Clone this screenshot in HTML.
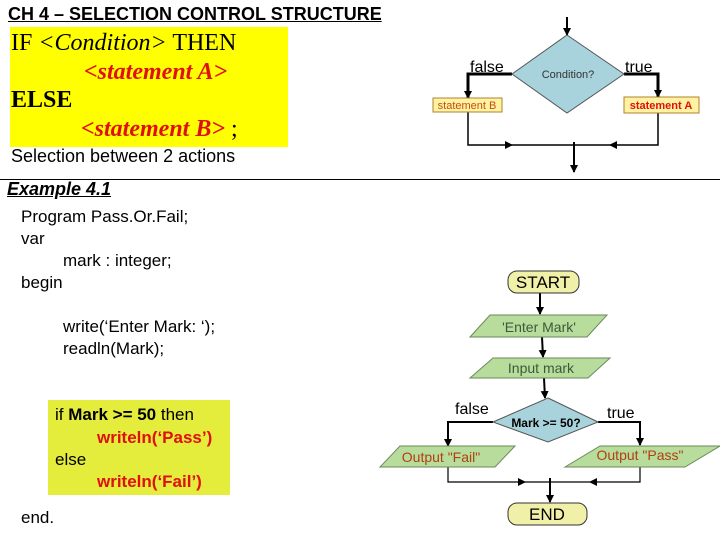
<!DOCTYPE html>
<html><head><meta charset="utf-8"><style>
body{margin:0;width:720px;height:540px;background:#fff;position:relative;overflow:hidden;font-family:"Liberation Sans",sans-serif}
.a{position:absolute;white-space:nowrap;line-height:1}
.s{font-family:"Liberation Serif",serif;font-size:24px}
.r{color:#e01010;font-weight:bold;font-style:italic}
.p{font-size:17px}
.red{color:#e01010;font-weight:bold}
</style></head><body>
<div class="a" style="left:8px;top:5px;font-size:18px;font-weight:bold;text-decoration:underline">CH 4 – SELECTION CONTROL STRUCTURE</div>
<div class="a" style="left:10px;top:27px;width:278px;height:120px;background:#ffff00"></div>
<div class="a s" style="left:11px;top:31px">IF <i>&lt;Condition&gt;</i> THEN</div>
<div class="a s r" style="left:84px;top:60px">&lt;statement A&gt;</div>
<div class="a s" style="left:11px;top:88px;font-weight:bold">ELSE</div>
<div class="a s" style="left:81px;top:117px"><span class="r">&lt;statement B&gt;</span> ;</div>
<div class="a" style="left:11px;top:147px;font-size:18px">Selection between 2 actions</div>
<div class="a" style="left:0;top:179px;width:720px;height:1px;background:#000"></div>
<div class="a" style="left:7px;top:180px;font-size:18px;font-weight:bold;font-style:italic;text-decoration:underline">Example 4.1</div>
<div class="a p" style="left:21px;top:208px">Program Pass.Or.Fail;</div>
<div class="a p" style="left:21px;top:230px">var</div>
<div class="a p" style="left:63px;top:252px">mark : integer;</div>
<div class="a p" style="left:21px;top:274px">begin</div>
<div class="a p" style="left:63px;top:318px">write(‘Enter Mark: ‘);</div>
<div class="a p" style="left:63px;top:340px">readln(Mark);</div>
<div class="a" style="left:48px;top:400px;width:182px;height:95px;background:#e4ec3c"></div>
<div class="a p" style="left:55px;top:406px">if <b>Mark &gt;= 50</b> then</div>
<div class="a p red" style="left:97px;top:429px">writeln(‘Pass’)</div>
<div class="a p" style="left:55px;top:451px">else</div>
<div class="a p red" style="left:97px;top:473px">writeln(‘Fail’)</div>
<div class="a p" style="left:21px;top:509px">end.</div>
<svg class="a" style="left:0;top:0" width="720" height="540" font-family="Liberation Sans, sans-serif">
<defs><marker id="m" markerWidth="8" markerHeight="8" refX="7" refY="4" orient="auto" markerUnits="userSpaceOnUse"><path d="M0,0L8,4L0,8z" fill="#000"/></marker></defs>
<g stroke="#000" fill="none">
<line x1="567" y1="17" x2="567" y2="35" stroke-width="2" marker-end="url(#m)"/>
<polyline points="512,74 468,74 468,98" stroke-width="3" marker-end="url(#m)"/>
<polyline points="624,74 658,74 658,97" stroke-width="3" marker-end="url(#m)"/>
<polyline points="468,112 468,145 512,145" stroke-width="1.5" marker-end="url(#m)"/>
<line x1="512" y1="145" x2="567" y2="145" stroke-width="1.5"/>
<polyline points="658,113 658,145 610,145" stroke-width="1.5" marker-end="url(#m)"/>
<line x1="610" y1="145" x2="567" y2="145" stroke-width="1.5"/>
<line x1="574" y1="142" x2="574" y2="172" stroke-width="2" marker-end="url(#m)"/>
</g>
<polygon points="567,35 624,74 567,113 512,74" fill="#a9d3dc" stroke="#555"/>
<text x="568" y="78" font-size="11" text-anchor="middle" fill="#333">Condition?</text>
<text x="470" y="72" font-size="16" fill="#000">false</text>
<text x="625" y="72" font-size="16" fill="#000">true</text>
<rect x="433" y="98" width="69" height="14" fill="#fff2a0" stroke="#b08030"/>
<text x="467" y="109" font-size="11" text-anchor="middle" fill="#c05010">statement B</text>
<rect x="624" y="97" width="75" height="16" fill="#fff2a0" stroke="#b08030"/>
<text x="661" y="109" font-size="11" font-weight="bold" text-anchor="middle" fill="#e01010">statement A</text>
<g stroke="#000" fill="none" stroke-width="2">
<line x1="540" y1="293" x2="540" y2="314" marker-end="url(#m)"/>
<line x1="542" y1="337" x2="543" y2="357" marker-end="url(#m)"/>
<line x1="544" y1="378" x2="545" y2="398" marker-end="url(#m)"/>
<polyline points="493,422 448,422 448,446" marker-end="url(#m)"/>
<polyline points="598,422 640,422 640,445" marker-end="url(#m)"/>
<polyline points="448,467 448,482 525,482" stroke-width="1.2" marker-end="url(#m)"/>
<line x1="525" y1="482" x2="590" y2="482" stroke-width="1.2"/>
<polyline points="640,467 640,482 590,482" stroke-width="1.2" marker-end="url(#m)"/>
<line x1="550" y1="478" x2="550" y2="502" marker-end="url(#m)"/>
</g>
<rect x="508" y="271" width="71" height="22" rx="9" fill="#f0f0a8" stroke="#333"/>
<text x="543" y="288" font-size="17" text-anchor="middle">START</text>
<polygon points="470,337 490,315 607,315 587,337" fill="#b8dc9c" stroke="#6a8a5a"/>
<text x="539" y="332" font-size="14" text-anchor="middle" fill="#3a5a3a">'Enter Mark'</text>
<polygon points="470,378 493,358 610,358 588,378" fill="#b8dc9c" stroke="#6a8a5a"/>
<text x="541" y="373" font-size="14" text-anchor="middle" fill="#3a5a3a">Input mark</text>
<polygon points="548,398 598,422 548,442 493,422" fill="#a9d3dc" stroke="#555"/>
<text x="546" y="427" font-size="12" font-weight="bold" text-anchor="middle">Mark &gt;= 50?</text>
<text x="455" y="414" font-size="16">false</text>
<text x="607" y="418" font-size="16">true</text>
<polygon points="380,467 400,446 515,446 495,467" fill="#b8dc9c" stroke="#6a8a5a"/>
<text x="441" y="462" font-size="14" text-anchor="middle" fill="#b04010">Output "Fail"</text>
<polygon points="565,467 600,446 720,446 685,467" fill="#b8dc9c" stroke="#6a8a5a"/>
<text x="640" y="460" font-size="14" text-anchor="middle" fill="#b04010">Output "Pass"</text>
<rect x="508" y="503" width="79" height="22" rx="9" fill="#f0f0a8" stroke="#333"/>
<text x="547" y="520" font-size="17" text-anchor="middle">END</text>
</svg>
</body></html>
